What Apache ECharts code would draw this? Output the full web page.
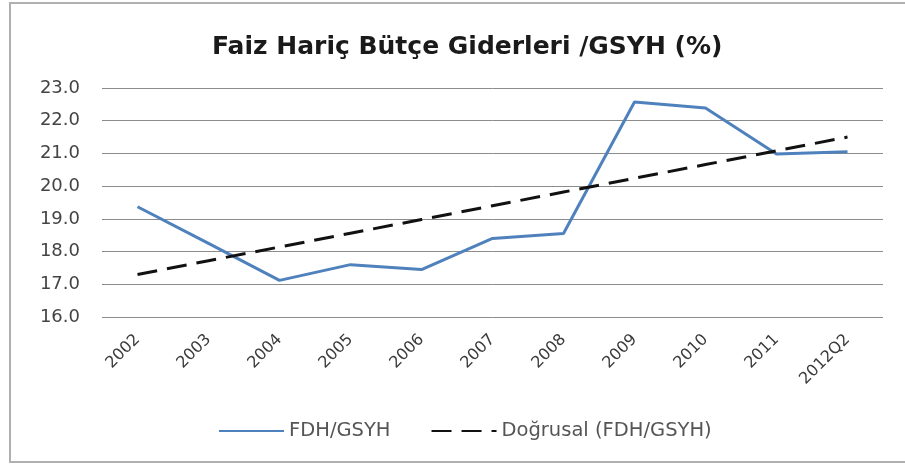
<!DOCTYPE html>
<html>
<head>
<meta charset="utf-8">
<script src="https://cdn.jsdelivr.net/npm/echarts@6/dist/echarts.min.js"></script>
<style>
  html, body { margin: 0; padding: 0; background: #fff; }
  #frame {
    position: absolute; left: 9px; top: 2px; width: 910px; height: 461px;
    border: 2px solid #b0b0b0; box-sizing: border-box;
  }
  #chart { position: absolute; left: 0; top: 0; width: 905px; height: 467px; }
</style>
</head>
<body>
<div id="frame"></div>
<div id="chart"></div>
<script>
const categories = ['2002', '2003', '2004', '2005', '2006', '2007', '2008', '2009', '2010', '2011', '2012Q2']
const fdhValues = [19.37, 18.25, 17.12, 17.6, 17.45, 18.4, 18.55, 22.57, 22.39, 20.98, 21.05]
const trendValues = [17.3, 17.72, 18.14, 18.56, 18.98, 19.4, 19.82, 20.24, 20.66, 21.08, 21.5]
const yTicks = { min: 16, max: 23, interval: 1 }

const chart = echarts.init(document.getElementById('chart'))
const font = 'DejaVu Sans'

chart.setOption({
  animation: false,
  title: {
    text: 'Faiz Hariç Bütçe Giderleri /GSYH (%)',
    left: 207,
    top: 30,
    textStyle: { fontFamily: font, fontWeight: 'bold', fontSize: 25, color: '#1a1a1a' }
  },
  legend: {
    left: 213,
    top: 416,
    itemWidth: 65,
    itemHeight: 16,
    itemGap: 40,
    textStyle: { fontFamily: font, fontSize: 19.5, color: '#555' },
    itemStyle: { opacity: 0 },
    data: ['FDH/GSYH', 'Doğrusal (FDH/GSYH)']
  },
  grid: { left: 102, right: 22, top: 88, bottom: 150 },
  xAxis: {
    type: 'category',
    data: categories,
    boundaryGap: true,
    axisLine: { show: false },
    axisTick: { show: false },
    axisLabel: { rotate: 45, margin: 20, fontFamily: font, fontSize: 16, color: '#3a3a3a' }
  },
  yAxis: {
    type: 'value',
    min: yTicks.min,
    max: yTicks.max,
    interval: yTicks.interval,
    axisLine: { show: false },
    axisTick: { show: false },
    axisLabel: {
      margin: 22,
      fontFamily: font,
      fontSize: 18,
      color: '#444',
      formatter: (v) => v.toFixed(1)
    },
    splitLine: { lineStyle: { color: '#8c8c8c', width: 1 } }
  },
  series: [
    {
      name: 'FDH/GSYH',
      type: 'line',
      data: fdhValues,
      symbol: 'none',
      lineStyle: { color: '#4f81bd', width: 3 },
      itemStyle: { color: '#4f81bd' }
    },
    {
      name: 'Doğrusal (FDH/GSYH)',
      type: 'line',
      data: trendValues,
      symbol: 'none',
      lineStyle: { color: '#111', width: 3, type: [20, 10] },
      itemStyle: { color: '#111' }
    }
  ]
})
</script>
</body>
</html>
